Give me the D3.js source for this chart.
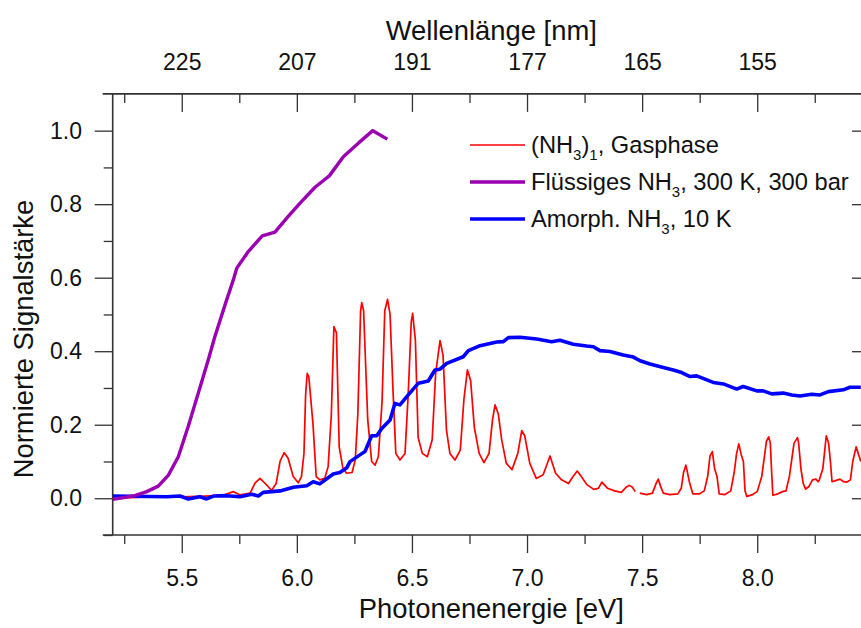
<!DOCTYPE html>
<html><head><meta charset="utf-8">
<script src="https://cdn.jsdelivr.net/npm/d3@7/dist/d3.min.js"></script>
<style>
html,body{margin:0;padding:0;background:#fff;}
svg{display:block;font-family:"Liberation Sans",Arial,sans-serif;}
</style></head>
<body>
<svg id="chart" width="861" height="628"></svg>
<script>
// ---- data ----
const xMajor = [5.5, 6.0, 6.5, 7.0, 7.5, 8.0];
const xMinor = [5.25, 5.75, 6.25, 6.75, 7.25, 7.75, 8.25];
const topLabels = ["225", "207", "191", "177", "165", "155"];
const yMajor = [0.0, 0.2, 0.4, 0.6, 0.8, 1.0];
const yMinor = [-0.1, 0.1, 0.3, 0.5, 0.7, 0.9];

const liquidE = [5.2, 5.289, 5.348, 5.398, 5.442, 5.485, 5.528, 5.572, 5.615, 5.644, 5.688, 5.724, 5.739, 5.789, 5.85, 5.905, 5.956, 6.014, 6.079, 6.141, 6.202, 6.267, 6.33, 6.393];
const liquidV = [-0.003, 0.006, 0.018, 0.033, 0.063, 0.113, 0.195, 0.286, 0.376, 0.44, 0.526, 0.594, 0.626, 0.671, 0.714, 0.724, 0.762, 0.803, 0.846, 0.877, 0.929, 0.966, 1.0, 0.977];

const amorphE = [5.2, 5.435, 5.492, 5.528, 5.579, 5.608, 5.637, 5.695, 5.753, 5.804, 5.833, 5.854, 5.927, 5.985, 6.043, 6.071, 6.1, 6.158, 6.187, 6.216, 6.231, 6.274, 6.296, 6.325, 6.347, 6.369, 6.405, 6.426, 6.448, 6.484, 6.528, 6.571, 6.6, 6.622, 6.651, 6.723, 6.745, 6.796, 6.868, 6.897, 6.919, 6.969, 7.042, 7.107, 7.143, 7.201, 7.259, 7.288, 7.317, 7.36, 7.418, 7.462, 7.491, 7.534, 7.592, 7.635, 7.672, 7.708, 7.737, 7.773, 7.809, 7.853, 7.911, 7.939, 7.998, 8.026, 8.063, 8.113, 8.15, 8.186, 8.237, 8.273, 8.309, 8.374, 8.403, 8.45];
const amorphV = [0.006, 0.004, 0.006, -0.002, 0.004, -0.002, 0.006, 0.007, 0.004, 0.011, 0.006, 0.016, 0.02, 0.03, 0.034, 0.045, 0.039, 0.066, 0.07, 0.082, 0.0996, 0.118, 0.127, 0.17, 0.17, 0.19, 0.213, 0.258, 0.254, 0.281, 0.313, 0.319, 0.349, 0.351, 0.367, 0.385, 0.4015, 0.415, 0.425, 0.426, 0.437, 0.438, 0.433, 0.426, 0.43, 0.419, 0.414, 0.412, 0.4015, 0.399, 0.39, 0.384, 0.374, 0.365, 0.356, 0.349, 0.342, 0.331, 0.333, 0.324, 0.315, 0.311, 0.297, 0.304, 0.292, 0.292, 0.284, 0.286, 0.281, 0.278, 0.283, 0.281, 0.29, 0.295, 0.302, 0.302];

const gasE = [5.2, 5.3, 5.4, 5.5, 5.6, 5.68, 5.724, 5.753, 5.797, 5.818, 5.84, 5.869, 5.89, 5.91, 5.927, 5.945, 5.962, 5.984, 6.006, 6.02, 6.031, 6.038, 6.045, 6.052, 6.07, 6.084, 6.1, 6.121, 6.136, 6.15, 6.161, 6.172, 6.184, 6.2, 6.216, 6.24, 6.254, 6.265, 6.277, 6.282, 6.29, 6.308, 6.325, 6.34, 6.354, 6.37, 6.382, 6.394, 6.405, 6.418, 6.43, 6.448, 6.47, 6.484, 6.497, 6.503, 6.515, 6.527, 6.545, 6.567, 6.588, 6.603, 6.622, 6.635, 6.65, 6.665, 6.687, 6.71, 6.726, 6.741, 6.755, 6.771, 6.792, 6.813, 6.835, 6.85, 6.861, 6.875, 6.89, 6.91, 6.935, 6.96, 6.977, 6.99, 7.012, 7.04, 7.07, 7.1, 7.124, 7.15, 7.18, 7.2, 7.218, 7.235, 7.26, 7.29, 7.31, 7.325, 7.35, 7.38, 7.41, 7.43, 7.444, 7.458, 7.47, 7.478, 7.49, 7.52, 7.545, 7.56, 7.57, 7.58, 7.592, 7.62, 7.655, 7.67, 7.68, 7.69, 7.697, 7.705, 7.72, 7.75, 7.77, 7.785, 7.795, 7.805, 7.815, 7.825, 7.835, 7.86, 7.885, 7.9, 7.91, 7.92, 7.93, 7.94, 7.947, 7.955, 7.98, 8.0, 8.02, 8.04, 8.05, 8.057, 8.062, 8.068, 8.09, 8.11, 8.125, 8.14, 8.16, 8.175, 8.18, 8.19, 8.2, 8.21, 8.225, 8.24, 8.255, 8.265, 8.27, 8.285, 8.3, 8.31, 8.318, 8.325, 8.34, 8.36, 8.375, 8.39, 8.405, 8.415, 8.43, 8.44, 8.45];
const gasV = [0.0, 0.002, 0.004, 0.004, 0.006, 0.008, 0.018, 0.009, 0.014, 0.041, 0.054, 0.036, 0.021, 0.04, 0.1, 0.124, 0.109, 0.059, 0.042, 0.059, 0.122, 0.28, 0.34, 0.33, 0.203, 0.059, 0.05, 0.054, 0.086, 0.23, 0.467, 0.45, 0.14, 0.082, 0.068, 0.07, 0.105, 0.23, 0.51, 0.532, 0.51, 0.213, 0.1, 0.09, 0.113, 0.26, 0.51, 0.541, 0.5, 0.29, 0.122, 0.104, 0.122, 0.285, 0.48, 0.503, 0.43, 0.165, 0.122, 0.113, 0.159, 0.34, 0.429, 0.39, 0.185, 0.122, 0.104, 0.131, 0.27, 0.349, 0.32, 0.193, 0.122, 0.097, 0.122, 0.213, 0.254, 0.23, 0.159, 0.095, 0.078, 0.122, 0.184, 0.17, 0.095, 0.054, 0.064, 0.115, 0.068, 0.05, 0.04, 0.059, 0.074, 0.06, 0.037, 0.024, 0.027, 0.044, 0.027, 0.02, 0.016, 0.03, 0.035, 0.03, 0.018, null, 0.014, 0.01, 0.014, 0.039, 0.052, 0.033, 0.014, 0.01, 0.012, 0.027, 0.07, 0.09, 0.07, 0.045, 0.012, 0.012, 0.02, 0.06, 0.115, 0.127, 0.08, 0.06, 0.012, 0.01, 0.02, 0.07, 0.12, 0.148, 0.12, 0.1, 0.02, 0.005, 0.01, 0.018, 0.06, 0.155, 0.167, 0.15, 0.08, 0.008, 0.012, 0.018, 0.02, 0.06, 0.15, 0.165, 0.15, 0.08, 0.04, 0.025, 0.032, 0.05, 0.052, 0.045, 0.05, 0.08, 0.17, 0.15, 0.1, 0.045, 0.048, 0.052, 0.045, 0.044, 0.05, 0.1, 0.14, 0.12, 0.1];

// ---- layout ----
const L = 112.7, R = 870, T = 93.9, B = 535;
const axisColor = "#333";
const tickFont = 23, titleFont = 27.4, legendFont = 23.7;

const svg = d3.select("#chart");
const x = d3.scaleLinear().domain([5.2, 8.49]).range([L, R]);
const y = d3.scaleLinear().domain([-0.1, 1.1]).range([B, T]);

svg.append("defs").append("clipPath").attr("id", "clip")
  .append("rect").attr("x", L).attr("y", T).attr("width", R - L).attr("height", B - T);

function styleAxis(g) {
  g.select(".domain").remove();
  g.selectAll("line").attr("stroke", axisColor).attr("stroke-width", 1.3);
  g.selectAll("text").attr("fill", "#111").attr("font-size", tickFont)
    .attr("font-family", '"Liberation Sans", Arial, sans-serif');
}

// bottom axis
svg.append("g").attr("transform", `translate(0,${B})`)
  .call(d3.axisBottom(x).tickValues(xMajor).tickSize(18).tickPadding(17).tickFormat(d3.format(".1f"))).call(styleAxis);
svg.append("g").attr("transform", `translate(0,${B})`)
  .call(d3.axisBottom(x).tickValues(xMinor).tickSize(9).tickFormat("")).call(styleAxis);
// top axis (inward ticks)
svg.append("g").attr("transform", `translate(0,${T})`)
  .call(d3.axisTop(x).tickValues(xMajor).tickSize(-18).tickPadding(24).tickFormat((d, i) => topLabels[i])).call(styleAxis);
svg.append("g").attr("transform", `translate(0,${T})`)
  .call(d3.axisTop(x).tickValues(xMinor).tickSize(-9).tickFormat("")).call(styleAxis);
// left axis
svg.append("g").attr("transform", `translate(${L},0)`)
  .call(d3.axisLeft(y).tickValues(yMajor).tickSize(18).tickPadding(12.7).tickFormat(d3.format(".1f"))).call(styleAxis);
svg.append("g").attr("transform", `translate(${L},0)`)
  .call(d3.axisLeft(y).tickValues(yMinor).tickSize(9).tickFormat("")).call(styleAxis);
// right axis (inward ticks)
svg.append("g").attr("transform", `translate(${R},0)`)
  .call(d3.axisRight(y).tickValues(yMajor).tickSize(-18).tickFormat("")).call(styleAxis);
svg.append("g").attr("transform", `translate(${R},0)`)
  .call(d3.axisRight(y).tickValues(yMinor).tickSize(-9).tickFormat("")).call(styleAxis);

// frame lines
const frame = svg.append("g").attr("stroke", axisColor).attr("stroke-width", 1.6);
frame.append("line").attr("x1", L - 10).attr("x2", R).attr("y1", B).attr("y2", B);
frame.append("line").attr("x1", L - 10).attr("x2", R).attr("y1", T).attr("y2", T);
frame.append("line").attr("x1", L).attr("x2", L).attr("y1", T).attr("y2", B);
frame.append("line").attr("x1", R).attr("x2", R).attr("y1", T).attr("y2", B);

// series
const line = d3.line().defined(d => d[1] !== null).x(d => x(d[0])).y(d => y(d[1]));
const plot = svg.append("g").attr("clip-path", "url(#clip)");
const gas = gasE.map((e, i) => [e, gasV[i]]);
const liquid = liquidE.map((e, i) => [e, liquidV[i]]);
const amorph = amorphE.map((e, i) => [e, amorphV[i]]);
const colors = {gas: "#ff0000", liquid: "#9a00b2", amorph: "#0000ff"};
const widths = {gas: 1.7, liquid: 3.4, amorph: 3.6};
plot.append("path").datum(gas).attr("d", line).attr("fill", "none")
  .attr("stroke", colors.gas).attr("stroke-width", widths.gas).attr("stroke-linejoin", "round");
plot.append("path").datum(amorph).attr("d", line).attr("fill", "none")
  .attr("stroke", colors.amorph).attr("stroke-width", widths.amorph).attr("stroke-linejoin", "round");
plot.append("path").datum(liquid).attr("d", line).attr("fill", "none")
  .attr("stroke", colors.liquid).attr("stroke-width", widths.liquid).attr("stroke-linejoin", "round");

// titles
svg.append("text").attr("x", (L + R) / 2).attr("y", 618).attr("text-anchor", "middle")
  .attr("font-size", titleFont).attr("fill", "#111").text("Photonenenergie [eV]");
svg.append("text").attr("x", (L + R) / 2).attr("y", 40).attr("text-anchor", "middle")
  .attr("font-size", titleFont).attr("fill", "#111").text("Wellenlänge [nm]");
svg.append("text").attr("transform", `translate(33,339) rotate(-90)`).attr("text-anchor", "middle")
  .attr("font-size", titleFont).attr("fill", "#111").text("Normierte Signalstärke");

// legend
const legendRows = [
  {key: "gas", parts: [["(NH", 0], ["3", 1], [")", 0], ["1", 1], [", Gasphase", 0]]},
  {key: "liquid", parts: [["Flüssiges NH", 0], ["3", 1], [", 300 K, 300 bar", 0]]},
  {key: "amorph", parts: [["Amorph. NH", 0], ["3", 1], [", 10 K", 0]]}
];
const legendY = [145, 182, 219];
const lg = svg.append("g");
legendRows.forEach((row, i) => {
  const yy = legendY[i];
  lg.append("line").attr("x1", 470).attr("x2", 525).attr("y1", yy).attr("y2", yy)
    .attr("stroke", colors[row.key]).attr("stroke-width", widths[row.key]);
  const t = lg.append("text").attr("x", 531).attr("y", yy + 8.3).attr("font-size", legendFont).attr("fill", "#111");
  let sub = 0;
  row.parts.forEach(([s, isSub]) => {
    const ts = t.append("tspan").text(s);
    if (isSub && !sub) { ts.attr("dy", 7).attr("font-size", 15); sub = 1; }
    else if (isSub && sub) { ts.attr("font-size", 15); }
    else if (!isSub && sub) { ts.attr("dy", -7); sub = 0; }
  });
});
</script>
</body></html>
